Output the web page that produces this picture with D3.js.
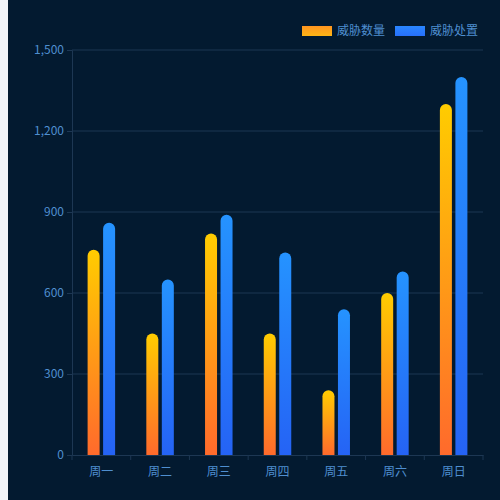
<!DOCTYPE html>
<html>
<head>
<meta charset="utf-8">
<script src="https://cdn.jsdelivr.net/npm/d3@7"></script>
<style>
  body { margin: 0; background: #f2f4f8; }
  #chart { position: absolute; left: 8px; top: 0; }
  text { font-family: "Noto Sans CJK SC", "Noto Sans", sans-serif; }
</style>
</head>
<body>
<div id="chart"></div>
<script>
const days = ["周一", "周二", "周三", "周四", "周五", "周六", "周日"];
const threatCount = [760, 450, 820, 450, 240, 600, 1300];
const threatHandled = [860, 650, 890, 750, 540, 680, 1400];
const seriesNames = ["威胁数量", "威胁处置"];
const yTicks = [0, 300, 600, 900, 1200, 1500];

const W = 492, H = 500;
const margin = { left: 64, right: 17, top: 50, bottom: 45 };
const TEXT = "#4f8fd0", LINE = "#1d3753";

const svg = d3.select("#chart").append("svg")
    .attr("width", W).attr("height", H);
svg.append("rect").attr("width", W).attr("height", H).attr("fill", "#031a30");

const defs = svg.append("defs");
function grad(id, top, bottom){
  const g = defs.append("linearGradient").attr("id", id)
      .attr("x1", 0).attr("y1", 0).attr("x2", 0).attr("y2", 1);
  g.append("stop").attr("offset", "0%").attr("stop-color", top);
  g.append("stop").attr("offset", "100%").attr("stop-color", bottom);
}
grad("gOrange", "#ffcc00", "#ff6a2c");
grad("gBlue", "#2593ff", "#2563f5");
grad("lgOrange", "#ff9520", "#ffb515");
grad("lgBlue", "#2a86ff", "#2770fb");

const x = d3.scaleBand().domain(days)
    .range([margin.left, W - margin.right]);
const y = d3.scaleLinear().domain([0, 1500])
    .range([H - margin.bottom, margin.top]);

// grid
svg.append("g").selectAll("line").data(yTicks.slice(1)).join("line")
    .attr("x1", margin.left).attr("x2", W - margin.right)
    .attr("y1", d => y(d)).attr("y2", d => y(d))
    .attr("stroke", LINE).attr("stroke-width", 1);

// y axis
const yAxis = svg.append("g")
    .attr("transform", "translate(" + margin.left + ",0)")
    .call(d3.axisLeft(y).tickValues(yTicks).tickFormat(d3.format(",")).tickSizeOuter(0).tickSize(5).tickPadding(3));
yAxis.select(".domain").attr("stroke", LINE);
yAxis.selectAll(".tick line").attr("stroke", LINE);
yAxis.selectAll("text").attr("fill", TEXT).attr("font-size", 12);

// x axis
const xAxis = svg.append("g")
    .attr("transform", "translate(0," + y(0) + ")")
    .call(d3.axisBottom(x).tickSize(0).tickPadding(12));
xAxis.select(".domain").attr("stroke", LINE);
xAxis.selectAll("text").attr("fill", TEXT).attr("font-size", 12);
xAxis.selectAll(".bound").data(d3.range(days.length + 1)).join("line")
    .attr("x1", i => margin.left + i * x.bandwidth())
    .attr("x2", i => margin.left + i * x.bandwidth())
    .attr("y1", 0).attr("y2", 5).attr("stroke", LINE);

// bars
const barW = 12, gap = 3.5;
function roundTop(x0, y0, w, h){
  const r = Math.min(w / 2, h);
  return "M" + x0 + "," + (y0 + h) + "V" + (y0 + r) +
    "A" + r + "," + r + " 0 0 1 " + (x0 + w) + "," + (y0 + r) +
    "V" + (y0 + h) + "Z";
}
const series = [threatCount, threatHandled];
const fills = ["url(#gOrange)", "url(#gBlue)"];
series.forEach((vals, s) => {
  svg.append("g").selectAll("path").data(vals).join("path")
      .attr("d", (v, i) => {
        const cx = x(days[i]) + x.bandwidth() / 2;
        const x0 = s === 0 ? cx - gap / 2 - barW : cx + gap / 2;
        return roundTop(x0, y(v), barW, y(0) - y(v));
      })
      .attr("fill", fills[s]);
});

// legend
const lg = [["lgOrange", 294], ["lgBlue", 387]];
lg.forEach((l, i) => {
  svg.append("rect").attr("x", l[1]).attr("y", 26).attr("width", 30).attr("height", 10)
      .attr("fill", "url(#" + l[0] + ")");
  svg.append("text").attr("x", l[1] + 35).attr("y", 35).text(seriesNames[i])
      .attr("fill", TEXT).attr("font-size", 12);
});
</script>
</body>
</html>
